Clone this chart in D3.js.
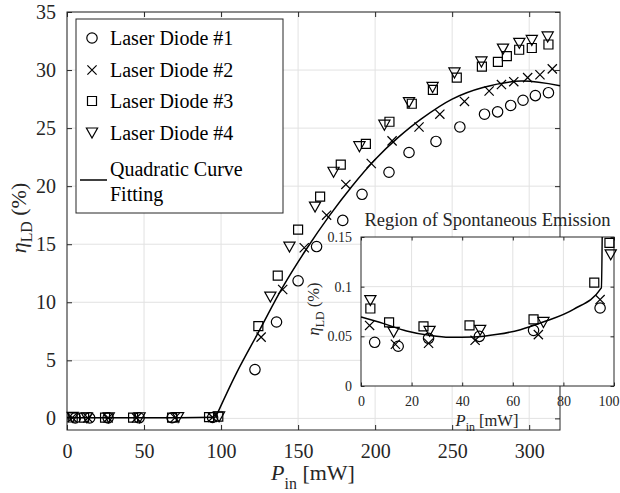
<!DOCTYPE html>
<html>
<head>
<meta charset="utf-8">
<script src="https://cdn.jsdelivr.net/npm/d3@7"></script>
<style>
  html, body { margin: 0; padding: 0; background: #fff; }
  svg { display: block; }
  text { font-family: "Liberation Serif", "Tinos", "Times New Roman", "Nimbus Roman", "DejaVu Serif", serif; fill: #262626; }
</style>
</head>
<body>
<svg id="chart" width="620" height="493"></svg>
<script>
// ---------------- data ----------------
const seriesNames = ["Laser Diode #1", "Laser Diode #2", "Laser Diode #3", "Laser Diode #4"];
const seriesMarkers = ["o", "x", "s", "v"];
const fitName = ["Quadratic Curve", "Fitting"];

const ld1X = [5.4, 14.7, 26.7, 46.8, 68.2, 94.5, 122, 136, 150, 162, 179, 191.5, 209, 222, 239.5, 255, 271, 279.5, 288, 296, 304, 312.5];
const ld1Y = [0.044, 0.040, 0.048, 0.050, 0.056, 0.0785, 4.2, 8.3, 11.85, 14.8, 17.05, 19.3, 21.2, 22.9, 23.85, 25.1, 26.2, 26.4, 26.95, 27.4, 27.8, 28.05];

const ld2X = [3.4, 13.6, 26.7, 45.1, 70.1, 94.5, 126, 140, 154, 168.5, 181, 197.5, 211, 228.5, 242, 258, 274, 282, 290, 299, 307, 315];
const ld2Y = [0.061, 0.042, 0.043, 0.046, 0.0517, 0.087, 7.0, 11.1, 14.7, 17.5, 20.15, 21.95, 23.9, 25.1, 26.2, 27.3, 28.2, 28.75, 29.0, 29.35, 29.6, 30.1];

const ld3X = [3.7, 11.1, 24.7, 42.9, 68.2, 92.2, 98.2, 124.2, 136.8, 150, 164.3, 177.7, 194, 209.3, 223.8, 237.5, 253, 269.3, 279.7, 285.5, 293.5, 301.7, 312.5];
const ld3Y = [0.078, 0.064, 0.060, 0.061, 0.067, 0.104, 0.144, 7.95, 12.3, 16.25, 19.1, 21.85, 23.65, 25.55, 27.1, 28.3, 29.35, 30.3, 30.7, 31.2, 31.75, 31.9, 32.2];

const ld4X = [3.7, 12.9, 27.1, 47.1, 72.1, 98.7, 132, 144.4, 161, 173, 189.8, 206, 222, 237.3, 251.5, 269, 283, 293.6, 301.7, 312];
const ld4Y = [0.086, 0.054, 0.055, 0.056, 0.064, 0.132, 10.45, 14.75, 18.2, 21.2, 23.4, 25.25, 27.2, 28.5, 29.75, 30.7, 31.8, 32.3, 32.55, 32.85];

// quadratic fit curve: spontaneous region and lasing region
const fitLowX = [0, 9, 18, 27, 35, 44.5, 54, 63, 72, 84, 95, 95.8];
const fitLowY = [0.0695, 0.0628, 0.0554, 0.051, 0.049, 0.0493, 0.052, 0.0567, 0.0644, 0.0772, 0.0987, 0.3];
const fitHighX = [96.5, 110, 125, 140, 155, 170, 185, 200, 215, 230, 250, 270, 295, 320];
const fitHighY = [0.1, 3.9, 7.6, 11.3, 14.5, 17.4, 20.0, 22.3, 24.2, 25.8, 27.5, 28.5, 29.05, 28.65];

// ticks
const xTicks = [0, 50, 100, 150, 200, 250, 300];
const yTicks = [0, 5, 10, 15, 20, 25, 30, 35];
const inXTicks = [0, 20, 40, 60, 80, 100];
const inYTicks = [0, 0.05, 0.1, 0.15];
const inYTickLabels = ["0", "0.05", "0.1", "0.15"];
const insetTitle = "Region of Spontaneous Emission";

// ---------------- drawing ----------------
const FONT = '"Liberation Serif", "Tinos", "Times New Roman", "Nimbus Roman", "DejaVu Serif", serif';
const svg = d3.select("#chart");
const AX = "#262626", GRID = "#e2e2e2";

const x = d3.scaleLinear().domain([0, 320]).range([67, 560]);
const y = d3.scaleLinear().domain([-1, 35]).range([430, 12]);
const xi = d3.scaleLinear().domain([0, 100]).range([361, 614]);
const yi = d3.scaleLinear().domain([0, 0.15]).range([386, 237]);

const allSeries = [[ld1X, ld1Y], [ld2X, ld2Y], [ld3X, ld3Y], [ld4X, ld4Y]];

function markerPath(type) {
  const p = d3.path();
  if (type === "o") { p.moveTo(5.2, 0); p.arc(0, 0, 5.2, 0, 2 * Math.PI); p.closePath(); }
  else if (type === "x") { p.moveTo(-4.6, -4.6); p.lineTo(4.6, 4.6); p.moveTo(-4.6, 4.6); p.lineTo(4.6, -4.6); }
  else if (type === "s") { p.rect(-4.5, -4.5, 9, 9); }
  else if (type === "v") { p.moveTo(-5.6, -5); p.lineTo(5.6, -5); p.lineTo(0, 5); p.closePath(); }
  return p.toString();
}

function drawGrid(g, xs, ys, xT, yT) {
  const [x0, x1] = xs.range(), [y0, y1] = ys.range();
  g.append("g").selectAll("line").data(xT).join("line")
    .attr("x1", d => xs(d)).attr("x2", d => xs(d)).attr("y1", y0).attr("y2", y1)
    .attr("stroke", GRID).attr("stroke-width", 1);
  g.append("g").selectAll("line").data(yT).join("line")
    .attr("y1", d => ys(d)).attr("y2", d => ys(d)).attr("x1", x0).attr("x2", x1)
    .attr("stroke", GRID).attr("stroke-width", 1);
}

function drawFrame(g, xs, ys, xT, yT, tl, fsz, xpad, ypad, yFmt) {
  const [x0, x1] = xs.range(), [y0, y1] = ys.range();
  const bottom = d3.axisBottom(xs).tickValues(xT).tickSizeInner(-tl).tickSizeOuter(0).tickPadding(xpad);
  const top = d3.axisTop(xs).tickValues(xT).tickSizeInner(-tl).tickSizeOuter(0).tickFormat("");
  const left = d3.axisLeft(ys).tickValues(yT).tickSizeInner(-tl).tickSizeOuter(0).tickPadding(ypad).tickFormat(yFmt);
  const right = d3.axisRight(ys).tickValues(yT).tickSizeInner(-tl).tickSizeOuter(0).tickFormat("");
  const gb = g.append("g").attr("transform", `translate(0,${y0})`).call(bottom);
  const gt = g.append("g").attr("transform", `translate(0,${y1})`).call(top);
  const gl = g.append("g").attr("transform", `translate(${x0},0)`).call(left);
  const gr = g.append("g").attr("transform", `translate(${x1},0)`).call(right);
  [gb, gt, gl, gr].forEach(a => {
    a.select(".domain").remove();
    a.attr("font-family", FONT).attr("font-size", fsz);
    a.selectAll("line").attr("stroke", AX);
    a.selectAll("text").attr("fill", AX).style("font-size", fsz + "px").style("font-family", FONT);
  });
  g.append("rect").attr("x", x0).attr("y", y1).attr("width", x1 - x0).attr("height", y0 - y1)
    .attr("fill", "none").attr("stroke", AX).attr("stroke-width", 1);
  return gb;
}

function label(g, cx, cy, rot, size, main, italic, sub, rest, subShift) {
  const t = g.append("text").attr("text-anchor", "middle")
    .attr("transform", `translate(${cx},${cy}) rotate(${rot})`)
    .style("font-size", size + "px").style("font-family", FONT);
  t.append("tspan").attr("font-style", italic ? "italic" : "normal").text(main);
  t.append("tspan").attr("dy", subShift).style("font-size", (size * 0.72) + "px").text(sub);
  t.append("tspan").attr("dy", -subShift).text(rest);
  return t;
}

function drawMarkers(g, xs, ys, filter) {
  allSeries.forEach(([sx, sy], i) => {
    const pts = d3.zip(sx, sy).filter(filter);
    g.append("g").selectAll("path").data(pts).join("path")
      .attr("transform", d => `translate(${xs(d[0])},${ys(d[1])})`)
      .attr("d", markerPath(seriesMarkers[i]))
      .attr("fill", "none").attr("stroke", "#000").attr("stroke-width", 1.2);
  });
}

// ---- main axes ----
const main = svg.append("g");
drawGrid(main, x, y, xTicks, yTicks);
drawFrame(main, x, y, xTicks, yTicks, 5, 20, 14, 11, d3.format("d"));

drawMarkers(main, x, y, () => true);

const lineLin = d3.line().x(d => x(d[0])).y(d => y(d[1]));
const lineSmooth = d3.line().x(d => x(d[0])).y(d => y(d[1])).curve(d3.curveCatmullRom);
main.append("path").datum(d3.zip(fitLowX.slice(0, 11), fitLowY.slice(0, 11)).concat([[fitHighX[0], fitHighY[0]]]))
  .attr("d", lineLin).attr("fill", "none").attr("stroke", "#000").attr("stroke-width", 1.5);
main.append("path").datum(d3.zip(fitHighX, fitHighY))
  .attr("d", lineSmooth).attr("fill", "none").attr("stroke", "#000").attr("stroke-width", 1.5);

label(svg, 313, 480, 0, 22, "P", true, "in", " [mW]", 9);
label(svg, 26, 218, -90, 22, "η", true, "LD", " (%)", 6);

// ---- legend ----
const lg = svg.append("g");
lg.append("rect").attr("x", 76).attr("y", 19).attr("width", 207).attr("height", 194)
  .attr("fill", "#fff").attr("stroke", AX).attr("stroke-width", 1);
const rowBase = [45, 77, 108, 140];
seriesNames.forEach((n, i) => {
  lg.append("path").attr("transform", `translate(92,${rowBase[i] - 7})`)
    .attr("d", markerPath(seriesMarkers[i])).attr("fill", "none").attr("stroke", "#000").attr("stroke-width", 1.2);
  lg.append("text").attr("x", 110).attr("y", rowBase[i]).style("font-size", "20px").style("font-family", FONT).style("fill", "#000").text(n);
});
lg.append("line").attr("x1", 80).attr("x2", 107).attr("y1", 180).attr("y2", 180)
  .attr("stroke", "#000").attr("stroke-width", 1.5);
lg.append("text").attr("x", 110).attr("y", 176).style("font-size", "20px").style("font-family", FONT).style("fill", "#000").text(fitName[0]);
lg.append("text").attr("x", 110).attr("y", 201).style("font-size", "20px").style("font-family", FONT).style("fill", "#000").text(fitName[1]);

// ---- inset ----
const inset = svg.append("g");
inset.append("rect").attr("x", 361).attr("y", 237).attr("width", 253).attr("height", 149).attr("fill", "#fff");
drawGrid(inset, xi, yi, inXTicks.slice(1, -1), inYTicks.slice(1, -1));
const inB = drawFrame(inset, xi, yi, inXTicks, inYTicks, 3.5, 14, 10, 9, (d, i) => inYTickLabels[i]);
// keep the last inset x label inside the picture edge
inB.selectAll(".tick").filter(d => d === 100).select("text").attr("text-anchor", "end").attr("dx", "5");

svg.append("clipPath").attr("id", "inclip").append("rect")
  .attr("x", 361).attr("y", 237).attr("width", 253).attr("height", 149);
inset.append("path").datum(d3.zip(fitLowX, fitLowY))
  .attr("clip-path", "url(#inclip)")
  .attr("d", d3.line().x(d => xi(d[0])).y(d => yi(d[1])).curve(d3.curveMonotoneX))
  .attr("fill", "none").attr("stroke", "#000").attr("stroke-width", 1.5);
drawMarkers(inset, xi, yi, d => d[0] <= 100 && d[1] <= 0.16);

inset.append("text").attr("x", 487.5).attr("y", 226).attr("text-anchor", "middle")
  .style("font-size", "18.5px").style("font-family", FONT).text(insetTitle);
label(svg, 487, 426, 0, 16.5, "P", true, "in", " [mW]", 5);
label(svg, 319, 309, -90, 16.5, "η", true, "LD", " (%)", 4.5);
</script>
</body>
</html>
